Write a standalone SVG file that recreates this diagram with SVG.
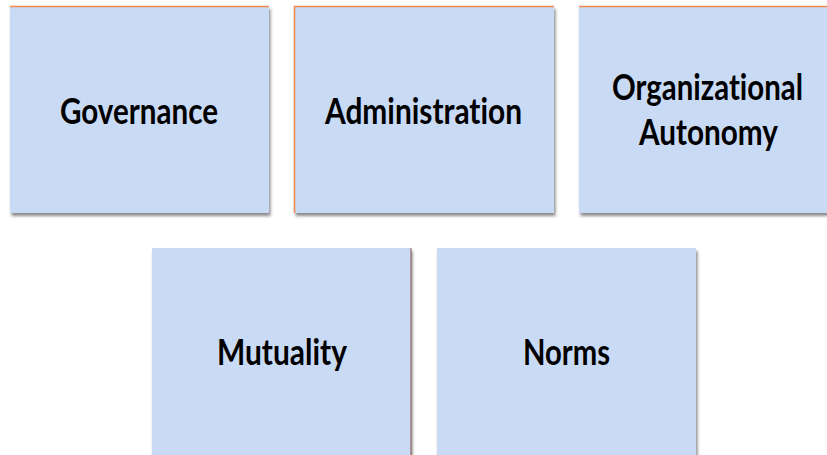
<svg xmlns="http://www.w3.org/2000/svg" width="827" height="455" viewBox="0 0 827 455">
<defs>
<filter id="sh" x="-10%" y="-10%" width="125%" height="125%">
<feDropShadow dx="1.5" dy="3" stdDeviation="1.5" flood-color="#000" flood-opacity="0.45"/>
</filter>
</defs>
<style>
.box{fill:#C9DAF5;filter:url(#sh)}
.lbl{font-family:Lato,"Open Sans","Liberation Sans",sans-serif;font-weight:700;font-size:37px;fill:#000;text-anchor:middle;font-variant-ligatures:none;font-feature-settings:"liga" 0}
.edge{stroke:#F08A50;stroke-width:1.5;fill:none}
</style>
<rect width="827" height="455" fill="#fff"/>
<g id="governance">
<rect class="box" x="10" y="6" width="259" height="207"/>
<line class="edge" x1="10" y1="6.5" x2="269" y2="6.5"/>
<text class="lbl" x="139" y="124" textLength="158" lengthAdjust="spacingAndGlyphs">Governance</text>
</g>
<g id="administration">
<rect class="box" x="294" y="6" width="260" height="207"/>
<path class="edge" d="M294.5,213 V6.5 H554"/>
<text class="lbl" x="423.5" y="124" textLength="197" lengthAdjust="spacingAndGlyphs">Administration</text>
</g>
<g id="organizational-autonomy">
<rect class="box" x="579" y="6" width="252" height="207"/>
<line class="edge" x1="579" y1="6.5" x2="827" y2="6.5"/>
<text class="lbl" x="707.5" y="100" textLength="191" lengthAdjust="spacingAndGlyphs">Organizational</text>
<text class="lbl" x="708.5" y="145" textLength="139" lengthAdjust="spacingAndGlyphs">Autonomy</text>
</g>
<g id="mutuality">
<rect class="box" x="152" y="248" width="259" height="215"/>
<line x1="411" y1="248" x2="411" y2="455" stroke="#8a5a50" stroke-width="1"/>
<text class="lbl" x="282" y="365" textLength="130" lengthAdjust="spacingAndGlyphs">Mutuality</text>
</g>
<g id="norms">
<rect class="box" x="437" y="248" width="259" height="215"/>
<text class="lbl" x="566.5" y="365" textLength="87" lengthAdjust="spacingAndGlyphs">Norms</text>
</g>
<g id="connectors"></g>
</svg>
